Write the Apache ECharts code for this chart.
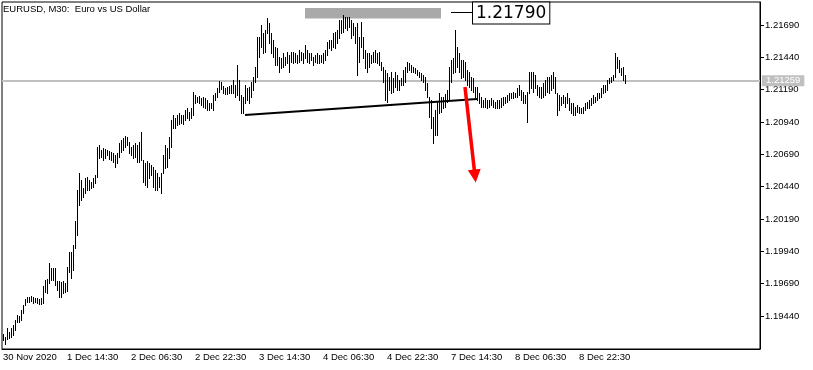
<!DOCTYPE html>
<html><head><meta charset="utf-8">
<script src="https://cdn.jsdelivr.net/npm/echarts@6/dist/echarts.min.js"></script>
<style>html,body{margin:0;padding:0;background:#fff}#c{width:813px;height:370px}</style>
</head><body><div id="c"></div>
<script>
const chartTitle = 'EURUSD, M30:  Euro vs US Dollar';
const timeLabels = ['30 Nov 2020','1 Dec 14:30','2 Dec 06:30','2 Dec 22:30','3 Dec 14:30','4 Dec 06:30','4 Dec 22:30','7 Dec 14:30','8 Dec 06:30','8 Dec 22:30'];
const yTicks = [1.19440,1.19690,1.19940,1.20190,1.20440,1.20690,1.20940,1.21190,1.21440,1.21690];
const highs = [1.19300,1.19277,1.19347,1.19316,1.19347,1.19370,1.19408,1.19447,1.19439,1.19486,
1.19524,1.19571,1.19586,1.19586,1.19594,1.19586,1.19579,1.19579,1.19571,1.19579,
1.19672,1.19718,1.19726,1.19849,1.19811,1.19811,1.19811,1.19710,1.19710,1.19702,
1.19710,1.19695,1.19818,1.19934,1.19934,1.19988,1.20174,1.20414,1.20545,1.20491,
1.20429,1.20506,1.20514,1.20491,1.20476,1.20506,1.20530,1.20746,1.20762,1.20723,
1.20739,1.20731,1.20723,1.20715,1.20708,1.20700,1.20684,1.20700,1.20777,1.20800,
1.20816,1.20831,1.20824,1.20785,1.20746,1.20762,1.20777,1.20762,1.20785,1.20862,
1.20646,1.20623,1.20638,1.20623,1.20607,1.20592,1.20568,1.20545,1.20514,1.20545,
1.20684,1.20762,1.20739,1.20824,1.20955,1.20994,1.20971,1.20994,1.21009,1.20994,
1.20994,1.21032,1.21048,1.21017,1.21048,1.21172,1.21148,1.21133,1.21141,1.21125,
1.21133,1.21125,1.21110,1.21086,1.21086,1.21148,1.21164,1.21203,1.21257,1.21249,
1.21218,1.21203,1.21210,1.21218,1.21226,1.21264,1.21226,1.21380,1.21264,1.21148,
1.21133,1.21226,1.21203,1.21210,1.21249,1.21288,1.21365,1.21597,1.21597,1.21690,
1.21628,1.21651,1.21744,1.21705,1.21628,1.21574,1.21520,1.21512,1.21442,1.21434,
1.21473,1.21442,1.21481,1.21458,1.21481,1.21481,1.21473,1.21458,1.21496,1.21481,
1.21473,1.21535,1.21496,1.21473,1.21473,1.21442,1.21458,1.21473,1.21458,1.21458,
1.21473,1.21496,1.21558,1.21574,1.21574,1.21628,1.21636,1.21651,1.21728,1.21728,
1.21767,1.21752,1.21752,1.21752,1.21728,1.21705,1.21674,1.21705,1.21597,1.21713,
1.21597,1.21496,1.21473,1.21473,1.21458,1.21481,1.21496,1.21473,1.21481,1.21404,
1.21365,1.21342,1.21319,1.21288,1.21326,1.21280,1.21326,1.21303,1.21264,1.21280,
1.21342,1.21365,1.21404,1.21396,1.21380,1.21365,1.21357,1.21342,1.21326,1.21319,
1.21303,1.21288,1.21241,1.21133,1.21110,1.20978,1.21032,1.21094,1.21164,1.21133,
1.21133,1.21156,1.21187,1.21365,1.21419,1.21434,1.21651,1.21520,1.21473,1.21419,
1.21419,1.21404,1.21342,1.21326,1.21288,1.21280,1.21210,1.21210,1.21164,1.21133,
1.21110,1.21125,1.21110,1.21110,1.21125,1.21110,1.21094,1.21110,1.21110,1.21125,
1.21133,1.21133,1.21148,1.21164,1.21164,1.21172,1.21164,1.21203,1.21226,1.21187,
1.21172,1.21148,1.21172,1.21326,1.21326,1.21326,1.21303,1.21226,1.21210,1.21210,
1.21241,1.21264,1.21288,1.21288,1.21303,1.21326,1.21288,1.21164,1.21148,1.21133,
1.21148,1.21133,1.21164,1.21125,1.21086,1.21086,1.21055,1.21071,1.21055,1.21048,
1.21055,1.21086,1.21094,1.21110,1.21125,1.21148,1.21133,1.21164,1.21164,1.21203,
1.21226,1.21226,1.21264,1.21280,1.21288,1.21303,1.21473,1.21442,1.21419,1.21357,
1.21365,1.21303];
const lows = [1.19254,1.19223,1.19262,1.19269,1.19277,1.19292,1.19331,1.19393,1.19393,1.19408,
1.19463,1.19524,1.19548,1.19548,1.19555,1.19540,1.19548,1.19540,1.19532,1.19532,
1.19540,1.19625,1.19617,1.19695,1.19718,1.19718,1.19679,1.19640,1.19586,1.19586,
1.19617,1.19625,1.19633,1.19779,1.19733,1.19795,1.19965,1.20066,1.20298,1.20336,
1.20360,1.20391,1.20414,1.20414,1.20429,1.20437,1.20468,1.20514,1.20661,1.20669,
1.20646,1.20661,1.20684,1.20654,1.20646,1.20630,1.20592,1.20623,1.20669,1.20708,
1.20723,1.20746,1.20762,1.20700,1.20684,1.20661,1.20669,1.20630,1.20630,1.20646,
1.20476,1.20452,1.20437,1.20506,1.20530,1.20437,1.20414,1.20414,1.20437,1.20391,
1.20545,1.20584,1.20592,1.20661,1.20746,1.20893,1.20893,1.20916,1.20924,1.20932,
1.20924,1.20955,1.20971,1.20955,1.20971,1.20994,1.21086,1.21094,1.21086,1.21071,
1.21055,1.21048,1.21032,1.21032,1.21048,1.21032,1.21110,1.21133,1.21172,1.21195,
1.21164,1.21156,1.21156,1.21164,1.21164,1.21164,1.21133,1.21148,1.21110,1.21009,
1.21009,1.21086,1.21110,1.21086,1.21133,1.21187,1.21249,1.21288,1.21442,1.21520,
1.21473,1.21481,1.21628,1.21550,1.21473,1.21442,1.21380,1.21380,1.21326,1.21357,
1.21365,1.21380,1.21396,1.21326,1.21404,1.21396,1.21404,1.21396,1.21404,1.21419,
1.21396,1.21434,1.21404,1.21396,1.21419,1.21380,1.21404,1.21396,1.21396,1.21404,
1.21396,1.21419,1.21458,1.21512,1.21496,1.21520,1.21512,1.21550,1.21589,1.21628,
1.21636,1.21666,1.21651,1.21674,1.21589,1.21612,1.21550,1.21303,1.21404,1.21520,
1.21434,1.21357,1.21326,1.21365,1.21396,1.21404,1.21404,1.21396,1.21380,1.21342,
1.21249,1.21110,1.21094,1.21187,1.21164,1.21172,1.21210,1.21187,1.21187,1.21226,
1.21226,1.21249,1.21326,1.21342,1.21326,1.21326,1.21319,1.21303,1.21288,1.21264,
1.21249,1.21187,1.21133,1.20978,1.20893,1.20777,1.20839,1.20839,1.21009,1.21017,
1.21048,1.21055,1.21094,1.21110,1.21249,1.21319,1.21326,1.21365,1.21326,1.21280,
1.21288,1.21264,1.21226,1.21210,1.21187,1.21172,1.21133,1.21110,1.21086,1.21055,
1.21055,1.21055,1.21048,1.21055,1.21071,1.21055,1.21048,1.21048,1.21048,1.21055,
1.21071,1.21086,1.21094,1.21110,1.21125,1.21125,1.21133,1.21133,1.21148,1.21110,
1.21086,1.21086,1.20940,1.21164,1.21203,1.21172,1.21203,1.21148,1.21133,1.21125,
1.21133,1.21148,1.21172,1.21164,1.21187,1.21203,1.21164,1.20994,1.21032,1.21071,
1.21086,1.21055,1.21086,1.21032,1.21009,1.20994,1.20994,1.21017,1.21009,1.21009,
1.21009,1.21032,1.21048,1.21048,1.21071,1.21086,1.21094,1.21110,1.21125,1.21133,
1.21164,1.21172,1.21187,1.21241,1.21249,1.21264,1.21288,1.21357,1.21326,1.21303,
1.21264,1.21241];
const currentPrice = 1.21259;
const levelPrice = 1.21790;
const zoneBars = [151, 219];
const zonePrices = [1.21821, 1.21740];
const levelLabelBars = [224, 235];
const trendBars = [121, 237];
const trendPrices = [1.20994, 1.21117];
const arrowBars = [231, 236];
const arrowPrices = [1.21210, 1.20522];
const slotCount = 379;
const barsPerLabel = 32;
const yMin = 1.19184, yMax = 1.21868;

const FONT = 'Liberation Sans';
const cats = [];
for (let i = 0; i < slotCount; i++) cats.push(String(i));
const showTick = (idx) => idx % barsPerLabel === 0 && idx / barsPerLabel < timeLabels.length;

const chart = echarts.init(document.getElementById('c'), null, {renderer: 'canvas'});
chart.setOption({
  animation: false,
  backgroundColor: '#fff',
  title: {text: chartTitle, left: 3, top: 4, padding: 0,
    textStyle: {fontSize: 9.5, fontWeight: 'normal', fontFamily: FONT, color: '#000'}},
  grid: {left: 2, right: 53, top: 2, bottom: 21, show: true, borderColor: '#000', borderWidth: 1, backgroundColor: 'transparent'},
  xAxis: {
    type: 'category', data: cats, boundaryGap: true,
    axisLine: {lineStyle: {color: '#000', width: 1}},
    axisTick: {alignWithLabel: true, length: 4, interval: showTick, lineStyle: {color: '#000'}},
    axisLabel: {interval: showTick, formatter: (v, idx) => timeLabels[idx / barsPerLabel] || '',
      align: 'left', margin: 3, fontSize: 9.5, color: '#000', fontFamily: FONT},
    splitLine: {show: false}
  },
  yAxis: {
    type: 'value', position: 'right', min: yMin, max: yMax,
    axisLine: {show: true, lineStyle: {color: '#000'}},
    axisTick: {show: true, length: 4, customValues: yTicks, lineStyle: {color: '#000'}},
    axisLabel: {customValues: yTicks, formatter: v => v.toFixed(5), margin: 5, fontSize: 9.5, color: '#000', fontFamily: FONT},
    splitLine: {show: false}
  },
  series: [
    {
      type: 'line', data: [], z: 1, silent: true,
      markArea: {silent: true, itemStyle: {color: '#A9A9A9', borderWidth: 0},
        data: [[{coord: [zoneBars[0], zonePrices[0]]}, {coord: [zoneBars[1], zonePrices[1]]}]]}
    },
    {
      type: 'custom', z: 2, silent: true, clip: true,
      data: highs.map((h, i) => [i, lows[i], h]),
      encode: {x: 0, y: [1, 2]},
      renderItem: function (params, api) {
        const i = api.value(0);
        const top = api.coord([i, api.value(2)]);
        const bot = api.coord([i, api.value(1)]);
        const x = Math.round(top[0]) + 0.5;
        return {type: 'line', shape: {x1: x, y1: Math.round(top[1]), x2: x, y2: Math.round(bot[1]) + 1},
          style: {stroke: '#000', lineWidth: 1}};
      },
      markLine: {silent: true, z: 1, symbol: ['none', 'none'],
        lineStyle: {color: '#C0C0C0', width: 2, type: 'solid'},
        label: {show: true, position: 'end', distance: 2, formatter: currentPrice.toFixed(5), color: '#fff',
          backgroundColor: '#C0C0C0', padding: [1, 4, 0, 4], fontSize: 9.5, fontFamily: FONT, lineHeight: 10},
        data: [[{coord: [0, currentPrice], x: 2}, {coord: [slotCount - 1, currentPrice], x: 760}]]}
    },
    {
      type: 'line', z: 3, silent: true, symbol: 'none',
      data: [[trendBars[0], trendPrices[0]], [trendBars[1], trendPrices[1]]],
      lineStyle: {color: '#000', width: 2},
      markLine: {silent: true, z: 6, label: {show: false},
        data: [
          [{coord: [arrowBars[0], arrowPrices[0]], symbol: 'none'},
           {coord: [arrowBars[1], arrowPrices[1]], symbol: 'triangle', symbolSize: [13, 13],
            lineStyle: {color: '#FF0000', width: 3.5, type: 'solid'}}],
          [{coord: [levelLabelBars[0], levelPrice], symbol: 'none'},
           {coord: [levelLabelBars[1], levelPrice], symbol: 'none',
            lineStyle: {color: '#000', width: 1, type: 'solid'}}]
        ]},
      markPoint: {silent: true, z: 6,
        data: [{coord: [levelLabelBars[1], levelPrice], symbol: 'rect', symbolSize: 0,
          label: {show: true, position: 'right', distance: 0, formatter: levelPrice.toFixed(5),
            fontFamily: 'DejaVu Sans', fontSize: 17, lineHeight: 17, color: '#000',
            backgroundColor: '#fff', borderColor: '#000', borderWidth: 1, padding: [2, 3, 2, 3], offset: [0, 1]}}]}
    }
  ]
});
</script></body></html>
